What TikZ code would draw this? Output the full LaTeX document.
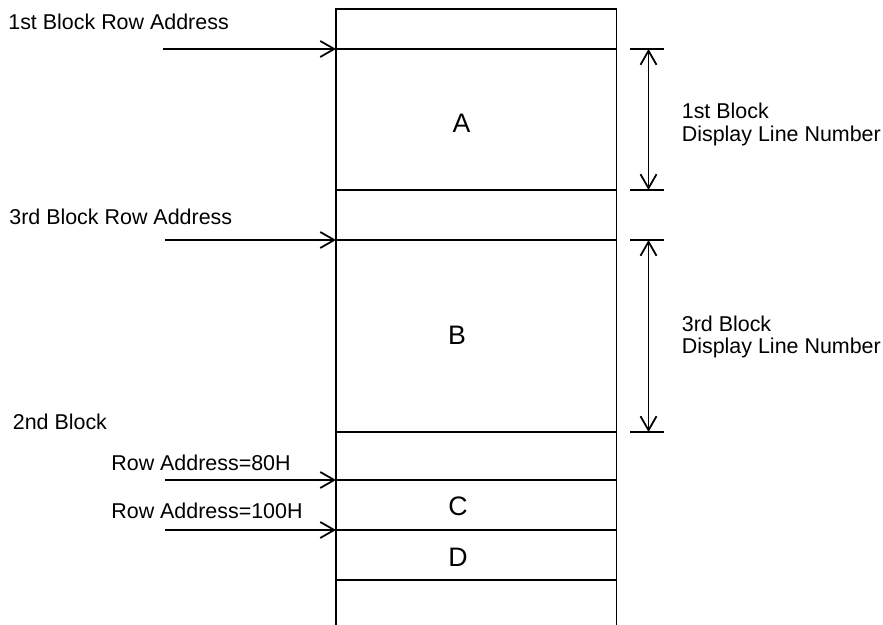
\documentclass[tikz,border=0pt]{standalone}
\usepackage{fontspec}
\setmainfont{Liberation Sans}
\usetikzlibrary{arrows.meta}

\tikzset{
  lbl/.style={anchor=base west, inner sep=0pt, font=\fontsize{12.2}{14.6}\selectfont},
  blk/.style={inner sep=0pt, font=\fontsize{15.2}{18}\selectfont},
  wall/.style={line width=1.1pt},
  row/.style={line width=1pt, ->},
  dim/.style={line width=1pt, <->},
}

\begin{document}
\begin{tikzpicture}[>={Straight Barb[length=0.28cm, width=0.32cm]}]
    \useasboundingbox (0, 0) rectangle (17.66, 12.5);

    % Столбец памяти (снизу открыт)
    \draw[wall] (6.72, 0) -- (6.72, 12.32) -- (12.33, 12.32) -- (12.33, 0);

    % Границы блоков
    \coordinate (r1) at (6.72, 11.52);
    \coordinate (e1) at (6.72, 8.70);
    \coordinate (r3) at (6.72, 7.70);
    \coordinate (e3) at (6.72, 3.86);
    \coordinate (r80) at (6.72, 2.90);
    \coordinate (r100) at (6.72, 1.90);
    \coordinate (eD) at (6.72, 0.90);
    \foreach \c in {r1, e1, r3, e3, r80, r100, eD}
        \draw[wall] (\c) -- ++(5.61, 0);

    % Имена блоков
    \node[blk] (a) at (9.23, 10.04) {A};
    \node[blk] (b) at (9.14, 5.80) {B};
    \node[blk] (c) at (9.16, 2.38) {C};
    \node[blk] (d) at (9.16, 1.36) {D};

    % Стрелки адресов строк
    \coordinate (s1) at (3.26, 11.52);
    \coordinate (s3) at (3.30, 7.70);
    \coordinate (s80) at (3.30, 2.90);
    \coordinate (s100) at (3.30, 1.90);
    \draw[row] (s1) -- (r1);
    \draw[row] (s3) -- (r3);
    \draw[row] (s80) -- (r80);
    \draw[row] (s100) -- (r100);

    \node[lbl] (t1) at (0.16, 11.90) {1st Block Row Address};
    \node[lbl] (t3) at (0.18, 8.00) {3rd Block Row Address};
    \node[lbl] (t2) at (0.25, 3.90) {2nd Block};
    \node[lbl] (t80) at (2.22, 3.08) {Row Address=80H};
    \node[lbl] (t100) at (2.22, 2.12) {Row Address=100H};

    % Размерные стрелки (число строк)
    \coordinate (d1t) at (12.97, 11.52);
    \coordinate (d1b) at (12.97, 8.70);
    \coordinate (d3t) at (12.97, 7.70);
    \coordinate (d3b) at (12.97, 3.86);
    \foreach \c in {d1t, d1b, d3t, d3b}
        \draw[line width=1pt] ([xshift=-0.37cm]\c) -- ([xshift=0.30cm]\c);
    \draw[dim] (d1t) -- (d1b);
    \draw[dim] (d3t) -- (d3b);

    \node[lbl] (n1a) at (13.63, 10.12) {1st Block};
    \node[lbl] (n1b) at (13.63, 9.67) {Display Line Number};
    \node[lbl] (n3a) at (13.63, 5.86) {3rd Block};
    \node[lbl] (n3b) at (13.63, 5.42) {Display Line Number};
\end{tikzpicture}
\end{document}
